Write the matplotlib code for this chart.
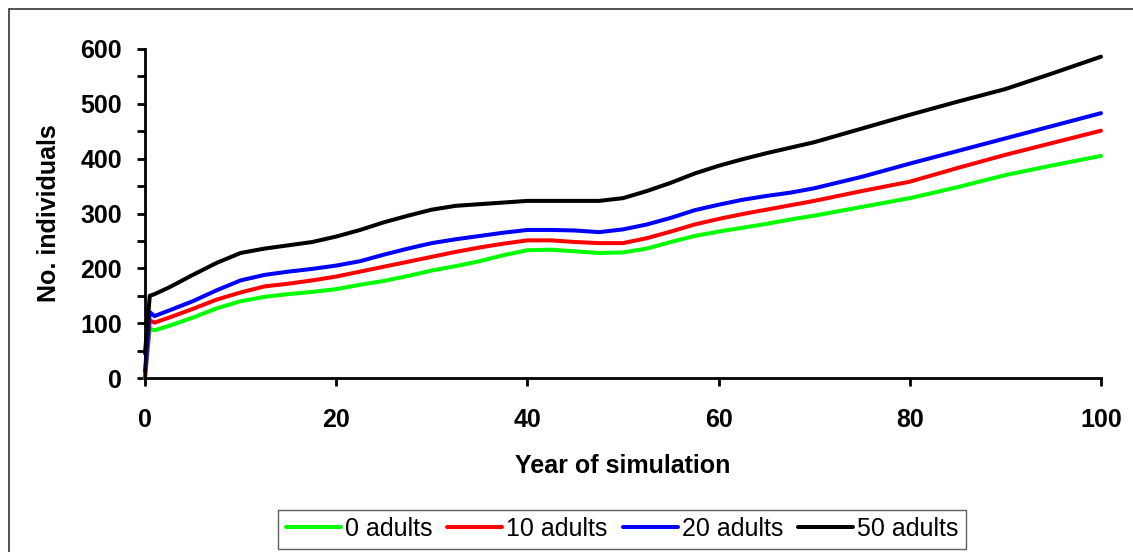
import matplotlib
matplotlib.use("Agg")
import matplotlib.pyplot as plt
from matplotlib.ticker import MultipleLocator
from matplotlib.patches import Rectangle

years = [0, 0.5, 1, 2.5, 5, 7.5, 10, 12.5, 15, 17.5, 20, 22.5, 25, 27.5, 30, 32.5, 35,
         37.5, 40, 42.5, 45, 47.5, 50, 52.5, 55, 57.5, 60, 62.5, 65, 67.5, 70, 75, 80,
         85, 90, 95, 100]
adults_0 = [0, 90, 87, 95, 110, 127, 140, 148, 153, 157, 162, 170, 177, 186, 196, 204, 213,
            224, 233, 234, 231, 228, 229, 236, 248, 259, 267, 274, 281, 289, 296, 312, 328,
            348, 370, 388, 405]
adults_10 = [2, 105, 101, 110, 126, 143, 156, 167, 172, 178, 185, 194, 203, 212, 221, 230, 238,
             245, 251, 251, 248, 246, 246, 255, 267, 280, 290, 299, 307, 315, 323, 341, 358,
             383, 407, 429, 451]
adults_20 = [12, 120, 113, 123, 140, 160, 178, 188, 194, 199, 205, 213, 225, 236, 246, 253, 259,
             265, 270, 270, 269, 266, 271, 280, 292, 306, 316, 325, 332, 338, 346, 367, 391,
             414, 437, 460, 483]
adults_50 = [45, 150, 153, 165, 188, 210, 228, 236, 242, 248, 258, 270, 284, 296, 307, 314, 317,
             320, 323, 323, 323, 323, 328, 341, 356, 373, 387, 399, 410, 420, 430, 455, 480,
             504, 527, 556, 586]
series_labels = ["0 adults", "10 adults", "20 adults", "50 adults"]
series_colors = ["#00FF00", "#FF0000", "#0000FF", "#000000"]

FS = 18
fig = plt.figure(figsize=(11.33, 5.52), dpi=100)
W, H = 1133, 552
ax = fig.add_axes([145 / W, 1 - 378 / H, (1101 - 145) / W, (378 - 49) / H])

for vals, lab, col in zip([adults_0, adults_10, adults_20, adults_50], series_labels, series_colors):
    ax.plot(years, vals, color=col, lw=2.9, label=lab, solid_capstyle="round",
            solid_joinstyle="round", clip_on=False)

ax.set_xlim(0, 100)
ax.set_ylim(0, 600)
ax.xaxis.set_major_locator(MultipleLocator(20))
ax.yaxis.set_major_locator(MultipleLocator(100))
ax.yaxis.set_minor_locator(MultipleLocator(50))

for s in ["top", "right"]:
    ax.spines[s].set_visible(False)
for s in ["left", "bottom"]:
    ax.spines[s].set_linewidth(2.0)
    ax.spines[s].set_color("black")

ax.tick_params(axis="both", which="both", width=2.0, length=5.5, direction="out")
ax.tick_params(axis="y", which="major", pad=11)
ax.tick_params(axis="x", which="major", pad=16)
for lbl in ax.get_xticklabels() + ax.get_yticklabels():
    lbl.set_fontfamily("Liberation Sans")
    lbl.set_fontweight("bold")
    lbl.set_fontsize(FS)

ax.set_xlabel("Year of simulation", fontfamily="Liberation Sans", fontweight="bold",
              fontsize=FS, labelpad=16)
ax.set_ylabel("No. individuals", fontfamily="Liberation Sans", fontweight="bold",
              fontsize=FS, labelpad=14)

leg = fig.legend(loc="center", bbox_to_anchor=(622 / W, 1 - 529 / H), ncol=4,
                 prop={"family": "Liberation Sans", "size": FS}, frameon=True,
                 fancybox=False, handlelength=2.2, handletextpad=0.16, columnspacing=0.6,
                 borderpad=0.3)
leg.get_frame().set_edgecolor("#333333")
leg.get_frame().set_linewidth(1.0)
for h in leg.get_lines():
    h.set_linewidth(2.9)

fig.patches.append(Rectangle((9 / W, -0.1), 1.2, 1 - 9 / H + 0.1, transform=fig.transFigure,
                             fill=False, edgecolor="#333333", linewidth=1.2))

fig.savefig("out.png", dpi=100)
